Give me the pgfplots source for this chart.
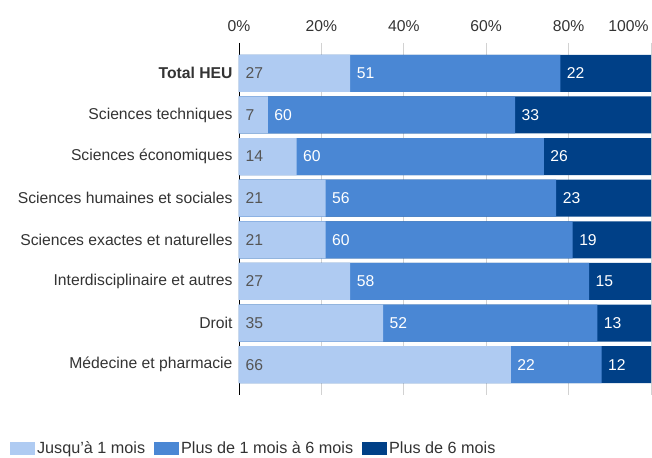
\documentclass[border=0pt]{standalone}
\usepackage{fontspec}
\setmainfont{Liberation Sans}
\usepackage{pgfplots}
\pgfplotsset{compat=1.18}
\usepackage{pgfplotstable}
\definecolor{cA}{RGB}{175,203,242}
\definecolor{cB}{RGB}{74,135,212}
\definecolor{cC}{RGB}{0,64,135}
\definecolor{txt}{RGB}{51,51,51}
\definecolor{num}{RGB}{85,85,85}

\pgfplotstableread{
y a b c
0 27 51 22
1 7 60 33
2 14 60 26
3 21 56 23
4 21 60 19
5 27 58 15
6 35 52 13
7 66 22 12
}\data

\begin{document}
\begin{tikzpicture}[font=\fontsize{15.7}{18}\selectfont]
\begin{axis}[
  scale only axis, width=412pt, height=352pt,
  xmin=0, xmax=100, ymin=-0.73, ymax=7.73, y dir=reverse,
  axis x line*=top, axis y line*=left,
  x axis line style={draw=none},
  y axis line style={-, black, line width=0.8pt},
  xtick={0,20,...,80},
  xticklabel={\pgfmathprintnumber{\tick}\%},
  xticklabel pos=upper,
  x tick label style={text=txt, yshift=8pt},
  extra x ticks={100},
  extra x tick style={xmajorgrids=true,
    x tick label style={anchor=south east, xshift=1pt}},
  xmajorgrids, grid style={gray!35, line width=0.8pt},
  major x tick style={draw=none},
  ytick={0,...,7},
  yticklabels={\textbf{Total HEU}, Sciences techniques, Sciences économiques,
    Sciences humaines et sociales, Sciences exactes et naturelles,
    Interdisciplinaire et autres, Droit, Médecine et pharmacie},
  y tick label style={text=txt, xshift=-3pt},
  major y tick style={draw=none},
  /pgf/number format/assume math mode=true,
  legend style={at={(-0.556,-0.152)}, anchor=west, draw=none, fill=none,
    legend columns=3, /tikz/every even column/.style={column sep=7pt},
    text=txt, inner sep=0pt, font=\fontsize{16.2}{18}\selectfont,
    nodes={inner xsep=2pt}},
  legend cell align=left,
  legend image code/.code={\fill[#1] (0pt,-6.5pt) rectangle (25pt,6.5pt);},
]
\coordinate (o) at (axis description cs:0,0);
\addlegendimage{fill=cA, draw=none}
\addlegendentry{Jusqu'à 1 mois}
\addlegendimage{fill=cB, draw=none}
\addlegendentry{Plus de 1 mois à 6 mois}
\addlegendimage{fill=cC, draw=none}
\addlegendentry{Plus de 6 mois}

\addplot[xbar, bar width=37pt, bar shift=0pt, fill=cC, draw=none, forget plot]
  table[x expr=\thisrow{a}+\thisrow{b}+\thisrow{c}, y=y]{\data};
\addplot[xbar, bar width=37pt, bar shift=0pt, fill=cB, draw=none, forget plot]
  table[x expr=\thisrow{a}+\thisrow{b}, y=y]{\data};
\addplot[xbar, bar width=37pt, bar shift=0pt, fill=cA, draw=none, forget plot]
  table[x=a, y=y]{\data};

\addplot[only marks, mark=none, forget plot, nodes near coords, point meta=explicit,
  every node near coord/.append style={anchor=west, text=num, xshift=3pt}]
  table[x expr=0, y=y, meta=a]{\data};
\addplot[only marks, mark=none, forget plot, nodes near coords, point meta=explicit,
  every node near coord/.append style={anchor=west, text=white, xshift=3pt}]
  table[x=a, y=y, meta=b]{\data};
\addplot[only marks, mark=none, forget plot, nodes near coords, point meta=explicit,
  every node near coord/.append style={anchor=west, text=white, xshift=3pt}]
  table[x expr=\thisrow{a}+\thisrow{b}, y=y, meta=c]{\data};
\end{axis}
\pgfresetboundingbox
\path[use as bounding box] (o) ++(-239pt,-62pt) rectangle ++(652pt,457pt);
\end{tikzpicture}
\end{document}
